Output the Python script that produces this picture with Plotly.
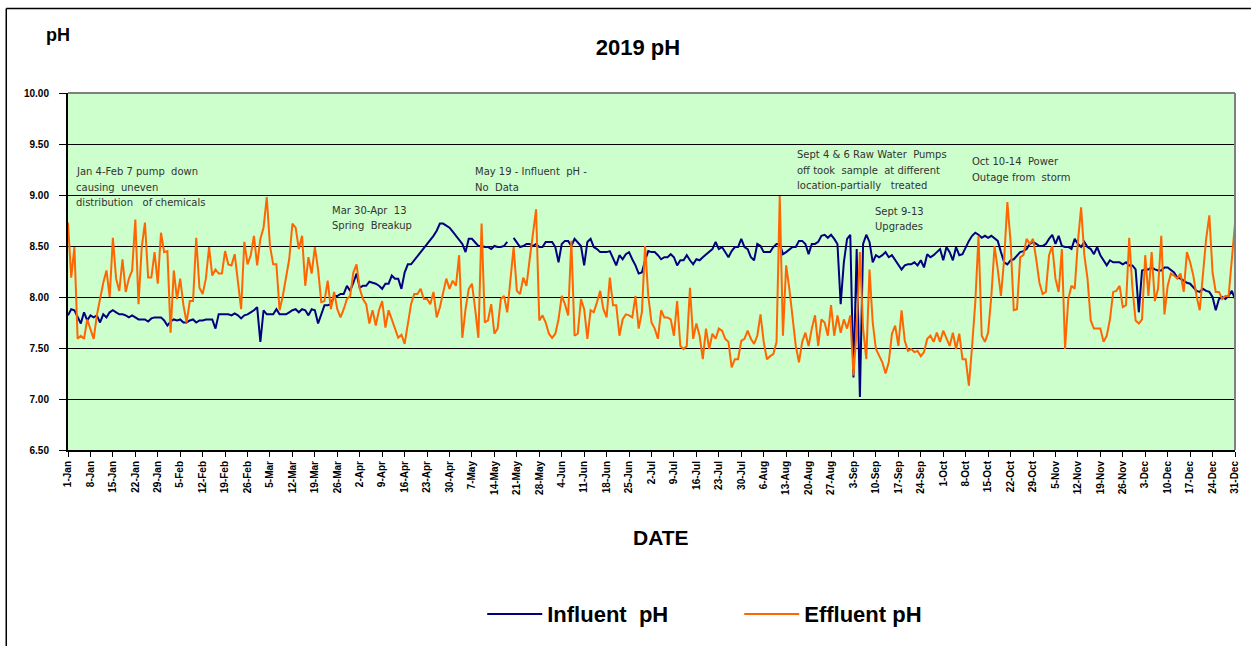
import pandas as pd
import plotly.graph_objects as go

# ---------------- data ----------------
dates = pd.date_range("2019-01-01", "2019-12-31", freq="D")

influent_ph = [
    7.82, 7.88, 7.87, 7.80, 7.74, 7.85, 7.77, 7.82, 7.80, 7.82,
    7.75, 7.83, 7.80, 7.85, 7.87, 7.85, 7.83, 7.83, 7.82, 7.80,
    7.82, 7.80, 7.78, 7.78, 7.78, 7.76, 7.79, 7.80, 7.80, 7.80,
    7.77, 7.72, 7.76, 7.78, 7.77, 7.78, 7.75, 7.75, 7.77, 7.78,
    7.75, 7.77, 7.77, 7.78, 7.78, 7.78, 7.69, 7.83, 7.83, 7.83,
    7.83, 7.82, 7.84, 7.82, 7.79, 7.82, 7.83, 7.85, 7.87, 7.90,
    7.56, 7.87, 7.83, 7.83, 7.83, 7.88, 7.83, 7.83, 7.83, 7.85,
    7.87, 7.88, 7.85, 7.88, 7.87, 7.82, 7.88, 7.87, 7.74, 7.83,
    7.92, 7.92, 7.93, 8.01, 8.01, 8.03, 8.03, 8.11, 8.06, 8.14,
    8.23, 8.09, 8.11, 8.11, 8.15, 8.14, 8.13, 8.11, 8.08, 8.13,
    8.13, 8.21, 8.18, 8.18, 8.08, 8.24, 8.32, 8.32, 8.36, 8.39,
    8.44, 8.47, 8.52, 8.55, 8.60, 8.65, 8.72, 8.72, 8.70, 8.68,
    8.64, 8.60, 8.57, 8.52, 8.44, 8.57, 8.57, 8.54, 8.50, 8.50,
    8.49, 8.49, 8.47, 8.50, 8.49, 8.49, 8.50, 8.54, None, 8.58,
    8.54, 8.49, 8.50, 8.52, 8.52, 8.50, 8.52, 8.49, 8.49, 8.54,
    8.54, 8.54, 8.49, 8.34, 8.52, 8.55, 8.55, 8.50, 8.57, 8.54,
    8.50, 8.31, 8.54, 8.57, 8.49, 8.47, 8.44, 8.44, 8.44, 8.45,
    8.37, 8.31, 8.41, 8.37, 8.42, 8.44, 8.37, 8.31, 8.23, 8.24,
    8.36, 8.45, 8.44, 8.44, 8.41, 8.37, 8.39, 8.39, 8.42, 8.39,
    8.31, 8.36, 8.36, 8.41, 8.36, 8.32, 8.37, 8.36, 8.39, 8.42,
    8.45, 8.47, 8.54, 8.47, 8.49, 8.44, 8.39, 8.45, 8.49, 8.49,
    8.57, 8.49, 8.47, 8.39, 8.36, 8.52, 8.50, 8.44, 8.44, 8.44,
    8.49, 8.52, 8.52, 8.42, 8.44, 8.47, 8.49, 8.49, 8.55, 8.55,
    8.52, 8.42, 8.52, 8.52, 8.54, 8.60, 8.61, 8.58, 8.61, 8.57,
    8.52, 7.93, 8.34, 8.57, 8.61, 7.21, 8.47, 7.02, 8.52, 8.61,
    8.54, 8.34, 8.41, 8.39, 8.41, 8.44, 8.39, 8.41, 8.36, 8.32,
    8.27, 8.31, 8.32, 8.32, 8.34, 8.31, 8.36, 8.29, 8.42, 8.39,
    8.41, 8.44, 8.47, 8.36, 8.49, 8.44, 8.36, 8.49, 8.41, 8.42,
    8.49, 8.55, 8.60, 8.63, 8.61, 8.58, 8.60, 8.58, 8.60, 8.57,
    8.55, 8.44, 8.34, 8.32, 8.36, 8.37, 8.41, 8.44, 8.45, 8.47,
    8.52, 8.54, 8.52, 8.50, 8.50, 8.52, 8.57, 8.61, 8.52, 8.60,
    8.50, 8.49, 8.49, 8.47, 8.57, 8.52, 8.49, 8.54, 8.49, 8.47,
    8.42, 8.49, 8.41, 8.36, 8.31, 8.36, 8.34, 8.34, 8.34, 8.32,
    8.34, 8.31, 8.31, 8.27, 7.85, 8.26, 8.27, 8.27, 8.29, 8.27,
    8.26, 8.26, 8.29, 8.29, 8.26, 8.24, 8.19, 8.18, 8.16, 8.14,
    8.13, 8.09, 8.06, 8.05, 8.08, 8.06, 8.05, 8.00, 7.87, 7.98,
    8.00, 7.98, 8.01, 8.06, 7.98,
]

effluent_ph = [
    8.73, 8.19, 8.49, 7.59, 7.62, 7.59, 7.78, 7.69, 7.59, 7.82,
    7.98, 8.14, 8.26, 8.00, 8.58, 8.18, 8.06, 8.37, 8.05, 8.18,
    8.26, 8.76, 7.93, 8.49, 8.73, 8.19, 8.19, 8.44, 8.13, 8.63,
    8.44, 8.45, 7.65, 8.26, 7.98, 8.18, 7.92, 7.75, 7.96, 7.96,
    8.58, 8.09, 8.03, 8.18, 8.49, 8.21, 8.27, 8.23, 8.23, 8.45,
    8.32, 8.31, 8.42, 8.14, 7.88, 8.54, 8.32, 8.41, 8.60, 8.31,
    8.57, 8.68, 8.98, 8.50, 8.32, 8.32, 7.87, 8.01, 8.21, 8.37,
    8.72, 8.68, 8.47, 8.60, 8.11, 8.39, 8.23, 8.49, 8.27, 7.95,
    7.96, 8.16, 7.88, 8.05, 7.88, 7.80, 7.88, 7.98, 8.01, 8.24,
    8.32, 8.08, 7.98, 7.93, 7.74, 7.87, 7.72, 7.87, 7.96, 7.70,
    7.87, 7.77, 7.69, 7.60, 7.63, 7.54, 7.72, 7.93, 8.03, 8.03,
    8.08, 7.98, 7.98, 7.93, 8.05, 7.80, 7.90, 8.05, 8.18, 8.08,
    8.16, 8.11, 8.41, 7.60, 7.88, 8.08, 8.13, 7.88, 7.60, 8.72,
    7.75, 7.77, 7.93, 7.64, 7.69, 7.98, 8.01, 7.85, 8.14, 8.49,
    8.06, 8.03, 8.19, 8.11, 8.37, 8.60, 8.86, 7.77, 7.82, 7.75,
    7.64, 7.60, 7.64, 7.78, 8.01, 7.93, 7.82, 8.55, 7.62, 7.64,
    7.98, 7.88, 7.59, 7.87, 7.85, 7.95, 8.06, 7.88, 7.80, 8.19,
    7.92, 7.92, 7.62, 7.78, 7.83, 7.82, 7.80, 8.01, 7.69, 7.85,
    8.50, 8.01, 7.75, 7.69, 7.59, 7.87, 7.80, 7.80, 7.78, 7.62,
    7.96, 7.52, 7.49, 7.52, 8.09, 7.59, 7.74, 7.62, 7.39, 7.69,
    7.49, 7.64, 7.59, 7.69, 7.67, 7.59, 7.56, 7.31, 7.39, 7.39,
    7.57, 7.59, 7.67, 7.59, 7.54, 7.62, 7.83, 7.56, 7.39, 7.42,
    7.44, 7.56, 8.99, 7.62, 8.31, 8.08, 7.82, 7.52, 7.36, 7.56,
    7.65, 7.52, 7.69, 7.82, 7.52, 7.78, 7.75, 7.62, 7.92, 7.62,
    7.82, 7.65, 7.78, 7.69, 7.82, 7.23, 7.69, 8.44, 7.69, 7.39,
    8.27, 7.75, 7.49, 7.42, 7.36, 7.25, 7.36, 7.64, 7.72, 7.52,
    7.87, 7.57, 7.47, 7.49, 7.46, 7.47, 7.42, 7.46, 7.59, 7.62,
    7.56, 7.65, 7.56, 7.67, 7.59, 7.52, 7.65, 7.49, 7.64, 7.39,
    7.39, 7.13, 7.52, 7.95, 8.60, 7.62, 7.56, 7.65, 8.01, 8.50,
    8.27, 8.01, 8.37, 8.93, 8.54, 7.87, 7.88, 8.39, 8.41, 8.57,
    8.52, 8.57, 8.37, 8.14, 8.03, 8.05, 8.41, 8.50, 8.18, 8.05,
    8.47, 7.49, 7.98, 8.11, 8.08, 8.54, 8.88, 8.41, 8.18, 7.77,
    7.69, 7.69, 7.69, 7.56, 7.62, 7.78, 8.05, 8.06, 8.11, 7.90,
    7.92, 8.58, 8.09, 7.77, 7.74, 7.78, 8.41, 8.01, 8.44, 7.96,
    8.08, 8.60, 7.83, 8.11, 8.23, 8.21, 8.18, 8.23, 8.05, 8.44,
    8.34, 8.21, 8.01, 7.87, 8.21, 8.57, 8.80, 8.24, 8.05, 8.05,
    7.98, 8.01, 8.01, 8.34, 8.72,
]

tick_dates = [
    "2019-01-01", "2019-01-08", "2019-01-15", "2019-01-22", "2019-01-29",
    "2019-02-05", "2019-02-12", "2019-02-19", "2019-02-26",
    "2019-03-05", "2019-03-12", "2019-03-19", "2019-03-26",
    "2019-04-02", "2019-04-09", "2019-04-16", "2019-04-23", "2019-04-30",
    "2019-05-07", "2019-05-14", "2019-05-21", "2019-05-28",
    "2019-06-04", "2019-06-11", "2019-06-18", "2019-06-25",
    "2019-07-02", "2019-07-09", "2019-07-16", "2019-07-23", "2019-07-30",
    "2019-08-06", "2019-08-13", "2019-08-20", "2019-08-27",
    "2019-09-03", "2019-09-10", "2019-09-17", "2019-09-24",
    "2019-10-01", "2019-10-08", "2019-10-15", "2019-10-22", "2019-10-29",
    "2019-11-05", "2019-11-12", "2019-11-19", "2019-11-26",
    "2019-12-03", "2019-12-10", "2019-12-17", "2019-12-24", "2019-12-31",
]
tick_labels = [
    "1-Jan", "8-Jan", "15-Jan", "22-Jan", "29-Jan",
    "5-Feb", "12-Feb", "19-Feb", "26-Feb",
    "5-Mar", "12-Mar", "19-Mar", "26-Mar",
    "2-Apr", "9-Apr", "16-Apr", "23-Apr", "30-Apr",
    "7-May", "14-May", "21-May", "28-May",
    "4-Jun", "11-Jun", "18-Jun", "25-Jun",
    "2-Jul", "9-Jul", "16-Jul", "23-Jul", "30-Jul",
    "6-Aug", "13-Aug", "20-Aug", "27-Aug",
    "3-Sep", "10-Sep", "17-Sep", "24-Sep",
    "1-Oct", "8-Oct", "15-Oct", "22-Oct", "29-Oct",
    "5-Nov", "12-Nov", "19-Nov", "26-Nov",
    "3-Dec", "10-Dec", "17-Dec", "24-Dec", "31-Dec",
]

# annotation notes: (text lines, left x px, first-line y px)
NB = "\u00a0"
notes = [
    (["Jan 4-Feb 7 pump" + NB + " down", "causing" + NB + " uneven",
      "distribution" + NB + NB + " of chemicals"], 74, 172),
    (["Mar 30-Apr" + NB + " 13", "Spring" + NB + " Breakup"], 331, 211),
    (["May 19 - Influent" + NB + " pH -", "No" + NB + " Data"], 475, 172),
    (["Sept 4 & 6 Raw Water" + NB + " Pumps", "off took" + NB + " sample" + NB + " at different",
      "location-partially" + NB + NB + " treated"], 798, 155),
    (["Sept 9-13", "Upgrades"], 876, 212),
    (["Oct 10-14" + NB + " Power", "Outage from" + NB + " storm"], 974, 162),
]

# ---------------- layout geometry (pixels) ----------------
W, H = 1251, 646
L, R, T, B = 68, 11, 93, 194
PW, PH = W - L - R, H - T - B


def px(x):
    return (x - L) / PW


def py(y):
    return (H - B - y) / PH


FONT = "Liberation Sans, Arial, sans-serif"
NAVY = "#000080"
ORANGE = "#FF6600"

fig = go.Figure()
fig.add_trace(go.Scatter(x=dates, y=influent_ph, mode="lines",
                         name="Influent" + NB + " pH",
                         line=dict(color=NAVY, width=2), connectgaps=False))
fig.add_trace(go.Scatter(x=dates, y=effluent_ph, mode="lines",
                         name="Effluent pH",
                         line=dict(color=ORANGE, width=2)))

annotations = []
for lines, x0, y0 in notes:
    for i, t in enumerate(lines):
        annotations.append(dict(
            text=t, xref="paper", yref="paper", x=px(x0), y=py(y0 + i * 15.7),
            xanchor="left", yanchor="middle", showarrow=False,
            font=dict(family="DejaVu Sans, sans-serif", size=10, color="#333333")))

annotations += [
    dict(text="pH", xref="paper", yref="paper", x=px(58), y=py(35),
         xanchor="center", yanchor="middle", showarrow=False,
         font=dict(family=FONT, size=18, color="black", weight="bold")),
    dict(text="DATE", xref="paper", yref="paper", x=px(664), y=py(540),
         xanchor="center", yanchor="middle", showarrow=False,
         font=dict(family=FONT, size=21, color="black", weight="bold")),
]

shapes = [
    # outer frame (left and top)
    dict(type="line", xref="paper", yref="paper", x0=px(6), x1=px(6),
         y0=py(8), y1=py(H + 5), line=dict(color="black", width=1.5)),
    dict(type="line", xref="paper", yref="paper", x0=px(6), x1=px(W + 5),
         y0=py(8), y1=py(8), line=dict(color="black", width=1.5)),
    # gray plot border (top and right)
    dict(type="line", xref="paper", yref="paper", x0=0, x1=1, y0=1, y1=1,
         line=dict(color="#808080", width=2)),
    dict(type="line", xref="paper", yref="paper", x0=1, x1=1, y0=0, y1=1,
         line=dict(color="#808080", width=2)),
]

fig.update_layout(
    width=W, height=H,
    margin=dict(l=L, r=R, t=T, b=B, pad=0),
    paper_bgcolor="white",
    plot_bgcolor="#CCFFCC",
    title=dict(text="2019 pH", x=638 / W, xanchor="center", y=1 - 47 / H,
               yanchor="middle", xref="container", yref="container",
               font=dict(family=FONT, size=22, color="black", weight="bold")),
    showlegend=True,
    legend=dict(orientation="h", x=px(484), y=py(617), xanchor="left",
                yanchor="middle", bgcolor="rgba(0,0,0,0)",
                font=dict(family=FONT, size=22, color="black", weight="bold"),
                itemwidth=55, entrywidth=187, entrywidthmode="pixels",
                traceorder="normal"),
    annotations=annotations,
    shapes=shapes,
    xaxis=dict(
        type="date", range=["2019-01-01", "2019-12-31"],
        tickmode="array", tickvals=tick_dates, ticktext=tick_labels,
        tickangle=-90, ticks="outside", ticklen=5, tickcolor="black",
        tickfont=dict(family=FONT, size=10, color="black", weight="bold"),
        showline=True, linecolor="black", linewidth=2,
        showgrid=False, zeroline=False,
    ),
    yaxis=dict(
        range=[6.5, 10.0], tickmode="linear", tick0=6.5, dtick=0.5,
        tickformat=".2f", ticks="outside", ticklen=7, tickcolor="black",
        tickfont=dict(family=FONT, size=10, color="black", weight="bold"),
        showline=True, linecolor="black", linewidth=2,
        showgrid=True, gridcolor="black", gridwidth=1.2, zeroline=False,
        ticklabelstandoff=8,
    ),
)

fig.write_html(
    "out.html",
    config={"displayModeBar": False},
    post_script="document.body.style.margin='0px';document.body.style.overflow='hidden';",
)
